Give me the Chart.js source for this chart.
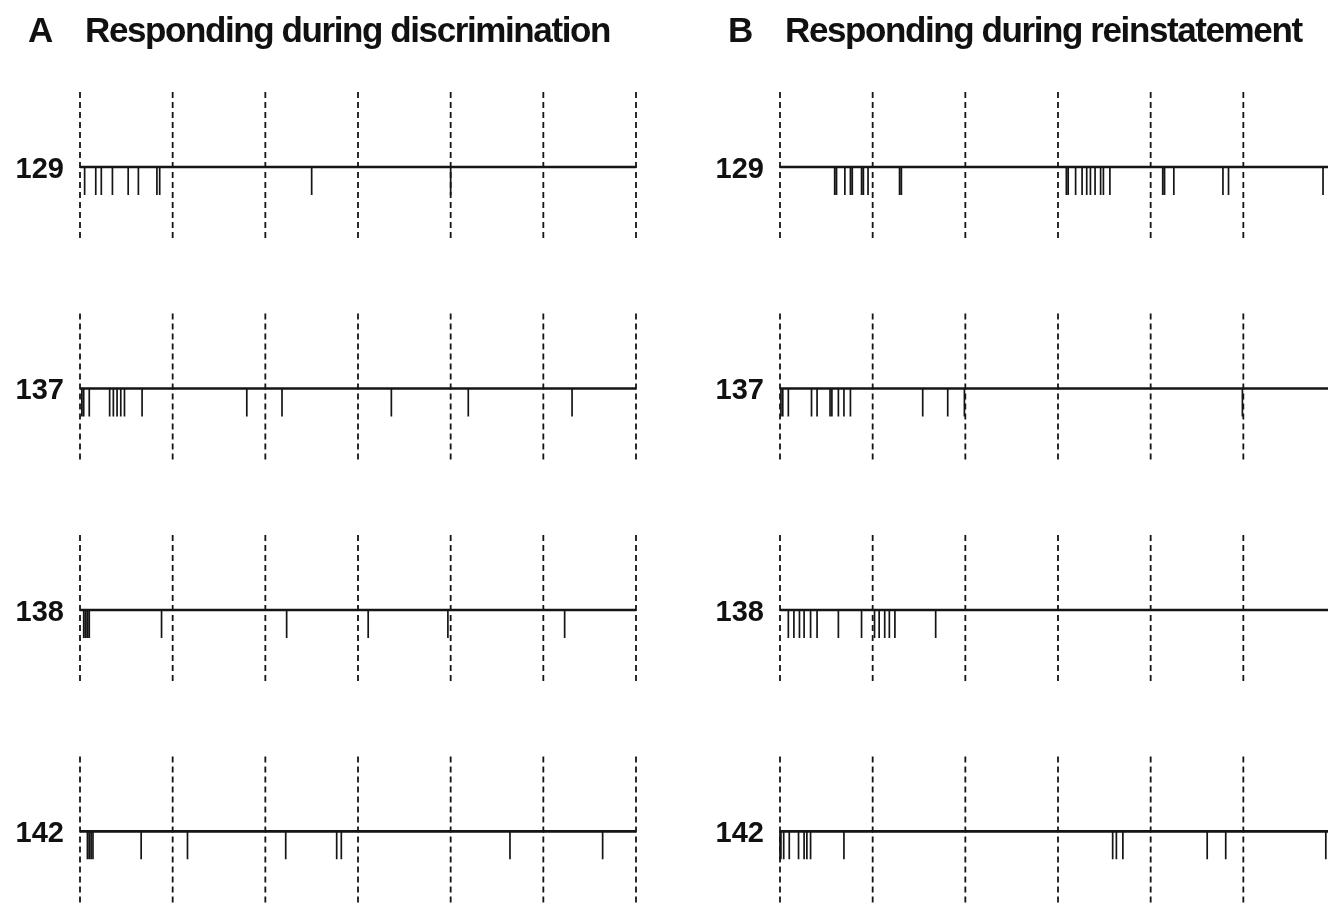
<!DOCTYPE html>
<html>
<head>
<meta charset="utf-8">
<script src="https://cdn.jsdelivr.net/npm/chart.js@4/dist/chart.umd.min.js"></script>
<style>
  html, body { margin: 0; padding: 0; background: #fff; overflow: hidden; }
  #page { position: relative; width: 1328px; height: 905px; overflow: hidden; }
  canvas { position: absolute; top: 0; }
  .title { position: absolute; top: 12px; font-family: "Liberation Sans", Arial, Helvetica, sans-serif;
           font-weight: bold; font-size: 35px; line-height: 35px; letter-spacing: -1.4px; color: #111; white-space: nowrap; }
</style>
</head>
<body>
<div id="page">
  <canvas id="chart-a" width="660" height="905" style="left:0px"></canvas>
  <canvas id="chart-b" width="660" height="905" style="left:700px"></canvas>
  <div class="title" style="left:28px">A</div>
  <div class="title" style="left:85px">Responding during discrimination</div>
  <div class="title" style="left:728px">B</div>
  <div class="title" style="left:785px">Responding during reinstatement</div>
</div>
<script>
// rat ids, one row each
var rowLabels = ['129', '137', '138', '142'];

// guide lines (time bins)
var binEdges = [0, 1, 2, 3, 4, 5, 6];

// response times during discrimination (panel A)
var discrim129 = [0.05, 0.17, 0.23, 0.35, 0.52, 0.63, 0.83, 0.86, 2.50, 4.00];
var discrim137 = [0.02, 0.04, 0.10, 0.32, 0.36, 0.40, 0.44, 0.48, 0.67, 1.80, 2.18, 3.36, 4.19, 5.31];
var discrim138 = [0.04, 0.06, 0.08, 0.10, 0.88, 2.23, 3.11, 3.97, 5.23];
var discrim142 = [0.08, 0.10, 0.12, 0.14, 0.66, 1.16, 2.22, 2.77, 2.82, 4.64, 5.64];

// response times during reinstatement (panel B)
var reinst129 = [0.59, 0.61, 0.70, 0.76, 0.78, 0.88, 0.90, 0.95, 1.29, 1.31,
                 3.09, 3.11, 3.19, 3.26, 3.31, 3.35, 3.40, 3.46, 3.49, 3.56,
                 4.13, 4.15, 4.25, 4.78, 4.84, 5.86];
var reinst137 = [0.01, 0.03, 0.09, 0.34, 0.40, 0.54, 0.56, 0.63, 0.69, 0.76, 1.54, 1.81, 1.99, 4.99];
var reinst138 = [0.09, 0.15, 0.21, 0.26, 0.33, 0.40, 0.63, 0.88, 1.02, 1.07, 1.13, 1.18, 1.24, 1.68];
var reinst142 = [0.00, 0.01, 0.04, 0.10, 0.20, 0.26, 0.29, 0.33, 0.69, 3.59, 3.63, 3.70, 4.61, 4.81, 5.89];

var tickDepth = 0.126;   // length of a response mark, in rows
var guideHalf = 0.339;   // half height of the dashed guides, in rows
var ink = '#151515';
var fontFamily = '"Liberation Sans", Arial, Helvetica, sans-serif';

// makes line segments, separated by gaps
function segments(pairs) {
    var pts = [];
    for (var p of pairs) {
        pts.push(p[0], p[1], {x: p[1].x, y: null});
    }
    return pts;
}

function buildDatasets(rows) {
    var base = [], marks = [], guides = [];
    rows.forEach(function (times, i) {
        base.push([{x: binEdges[0], y: i}, {x: binEdges[binEdges.length - 1], y: i}]);
        for (var t of times) {
            marks.push([{x: t, y: i}, {x: t, y: i + tickDepth}]);
        }
        for (var e of binEdges) {
            guides.push([{x: e, y: i - guideHalf}, {x: e, y: i + guideHalf}]);
        }
    });
    var common = {showLine: true, pointRadius: 0, spanGaps: false, clip: false, borderColor: ink, tension: 0};
    return [
        Object.assign({data: segments(guides), borderWidth: 1.8, borderDash: [6, 4]}, common),
        Object.assign({data: segments(base), borderWidth: 2.7}, common),
        Object.assign({data: segments(marks), borderWidth: 1.7}, common)
    ];
}

function createChart(id, rows) {
    var ctx = document.getElementById(id).getContext('2d');
    return new Chart(ctx, {
        type: 'scatter',
        data: {datasets: buildDatasets(rows)},
        options: {
            responsive: false,
            animation: false,
            devicePixelRatio: 1,
            layout: {padding: {left: 0, right: 24, top: 0, bottom: 0}},
            plugins: {legend: {display: false}, tooltip: {enabled: false}},
            scales: {
                x: {type: 'linear', min: 0, max: 6, display: false},
                y: {
                    type: 'linear',
                    reverse: true,
                    min: -0.754,
                    max: 3.332,
                    grid: {display: false, drawTicks: false},
                    border: {display: false},
                    afterBuildTicks: function (scale) {
                        scale.ticks = rowLabels.map(function (_, i) { return {value: i}; });
                    },
                    afterFit: function (scale) {
                        scale.width = 80;
                        scale.paddingTop = 0;
                        scale.paddingBottom = 0;
                    },
                    ticks: {
                        padding: 16,
                        labelOffset: 3,
                        color: '#111',
                        font: {family: fontFamily, size: 29, weight: 'bold'},
                        callback: function (value, index) { return rowLabels[index]; }
                    }
                }
            }
        }
    });
}

createChart('chart-a', [discrim129, discrim137, discrim138, discrim142]);
createChart('chart-b', [reinst129, reinst137, reinst138, reinst142]);
</script>
</body>
</html>
